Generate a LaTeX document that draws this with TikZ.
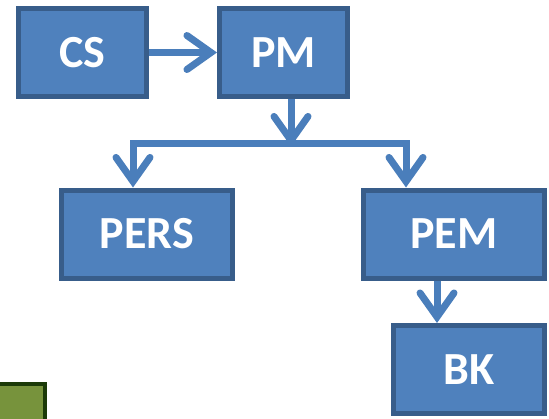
\documentclass[tikz,border=0pt]{standalone}
\usepackage{fontspec}
\setmainfont{Carlito}
\usetikzlibrary{arrows.meta}
\definecolor{boxfill}{HTML}{4F81BD}
\definecolor{boxline}{HTML}{385D8A}
\definecolor{arrcol}{HTML}{4A7EBB}
\definecolor{grnfill}{HTML}{77933C}
\definecolor{grnline}{HTML}{1B3A08}
\tikzset{barb/.tip={Straight Barb[length=24pt,width=34pt,line cap=round]}}
\begin{document}
\begin{tikzpicture}[x=1pt,y=-1pt,
  blk/.style={draw=boxline,fill=boxfill,line width=5pt,minimum height=88pt,
    text=white,font=\fontsize{46}{56}\selectfont\bfseries,inner sep=0pt},
  arr/.style={draw=arrcol,line width=7pt,line join=miter,-barb}]
  \useasboundingbox (0,0) rectangle (549,418);
  \clip (0,0) rectangle (549,418);
  \node[blk,minimum width=128pt] (CS) at (82.5,52.5) {CS};
  \node[blk,minimum width=128pt] (PM) at (283.5,52.5) {PM};
  \node[blk,minimum width=171pt] (PERS) at (147,234) {PERS};
  \node[blk,minimum width=181pt] (PEM) at (454,234) {PEM};
  \node[blk,minimum width=151pt] (BK) at (469,369.5) {BK};
  \node[draw=grnline,fill=grnfill,line width=4pt,minimum width=60pt,minimum height=60pt] (grn) at (15,414) {};
  \coordinate (mid) at (291,143.5);
  \coordinate (lft) at (133,143.5);
  \coordinate (rgt) at (406,143.5);
  \coordinate (drop) at (437,302);
  \draw[arr] (CS) -- (PM);
  \draw[arr] (PM.south -| mid) -- ([yshift=-3pt]mid);
  \draw[arr,barb-barb] (lft |- PERS.north) -- (lft) -- (rgt) -- (rgt |- PEM.north);
  \draw[arr] (PEM.south -| drop) -- (BK.north -| drop);
\end{tikzpicture}
\end{document}
